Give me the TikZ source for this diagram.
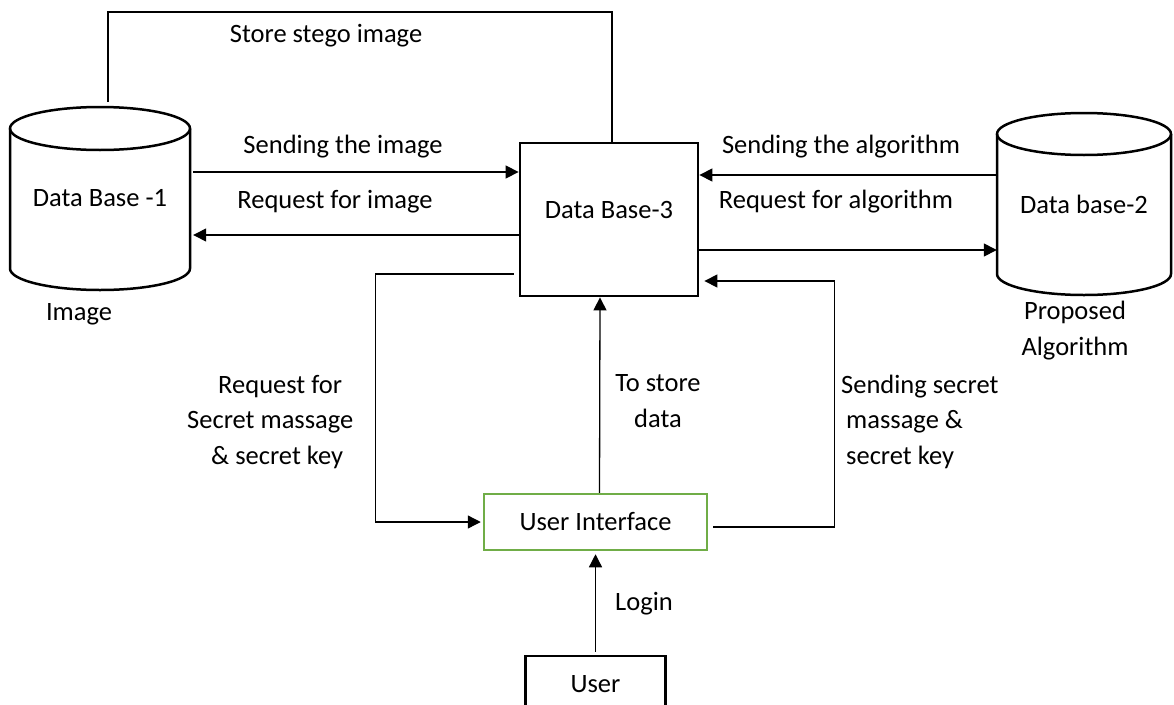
\documentclass[tikz,border=0pt]{standalone}
\usepackage{fontspec}
\setmainfont{Carlito}
\usetikzlibrary{arrows.meta,calc}
\definecolor{uigreen}{HTML}{70AD47}
\begin{document}
\begin{tikzpicture}[x=1pt,y=-1pt,
  font=\fontsize{26.5}{35.5}\selectfont,
  conn/.style={line width=1.3pt, black},
  arr/.style={conn, -{Triangle[length=13pt,width=13pt]}},
  box/.style={draw, line width=2.8pt, inner sep=0pt},
  area/.style={inner sep=0pt},
  lbl/.style={anchor=base, inner sep=0pt},
  cylwall/.style={line width=2.5pt}
]
\useasboundingbox (0,0) rectangle (1174,704);
\clip (0,0) rectangle (1174,704);

% ---- cylinders (drawn by hand, nodes give the anchors) ----
\draw[cylwall] (10,128.5) -- (10,268.5)
  arc[start angle=180,end angle=0,x radius=90,y radius=21.5] -- (190,128.5);
\draw[cylwall] (100,128.5) ellipse[x radius=90,y radius=21.5];
\node[area, minimum width=180pt, minimum height=183pt] (db1) at (100,198.5) {Data Base -1};

\draw[cylwall] (997,134) -- (997,274)
  arc[start angle=180,end angle=0,x radius=87,y radius=21] -- (1171,134);
\draw[cylwall] (1084,134) ellipse[x radius=87,y radius=21];
\node[area, minimum width=174pt, minimum height=182pt] (db2) at (1084,204) {Data base-2};

% ---- boxes ----
\node[box, minimum width=178pt, minimum height=153pt] (db3) at (609,219.5) {};
\node[lbl] at (609,218) {Data Base-3};
\node[box, draw=uigreen, line width=2.5pt, minimum width=223pt, minimum height=56pt] (ui) at (595.5,522) {User Interface};
\node[box, minimum width=140pt, minimum height=56pt] (user) at (595.5,684) {User};

% ---- connectors ----
\coordinate (s1) at (108,102);
\coordinate (s2) at (612,12);
\draw[conn] (s1) |- (s2) -- (s2 |- db3.north);

\draw[arr, shorten <=3pt] ([yshift=26.5pt]db1.east) -- ([yshift=26.5pt]db1.east -| db3.west);
\draw[arr, shorten >=3pt] ([yshift=-15.5pt]db3.west) -- ([yshift=-15.5pt]db3.west -| db1.east);

\draw[arr] ([yshift=29pt]db2.west) -- ([yshift=29pt]db2.west -| db3.east);
\draw[arr] ([yshift=-46pt]db2.west -| db3.east) -- ([yshift=-46pt]db2.west);

\draw[arr, shorten <=5pt, shorten >=2pt] ([yshift=-54.5pt]db3.west) -- ++(-143,0) |- (ui.west);
\draw[arr, shorten <=5pt, shorten >=5pt] ([yshift=-5pt]ui.east) -- ++(126,0) |- ([yshift=-61.5pt]db3.east);

\draw[arr] ([xshift=4pt]ui.north) -- ([xshift=-9pt]db3.south);
\draw[arr, shorten <=3pt, shorten >=3pt] (user.north) -- (ui.south);

% ---- labels (multi-line: base is the last line) ----
\node[lbl] at (326,42.5) {Store stego image};
\node[lbl] at (343,153) {Sending the image};
\node[lbl] at (335,208) {Request for image};
\node[lbl] at (841,153) {Sending the algorithm};
\node[lbl] at (836,208) {Request for algorithm};
\node[lbl] at (79,320) {Image};
\node[lbl, align=center] at (1075,355) {Proposed\\Algorithm};
\node[lbl, anchor=base west, align=left] at (187,464)
  {\hspace*{31pt}Request for\\Secret massage\\\hspace*{24pt}\& secret key};
\node[lbl, anchor=base west, align=left] at (841,464)
  {Sending secret\\\hspace*{5pt}massage \&\\\hspace*{5pt}secret key};
\node[lbl, align=center] at (658,427) {To store\\data};
\node[lbl] at (644,610) {Login};
\end{tikzpicture}
\end{document}
